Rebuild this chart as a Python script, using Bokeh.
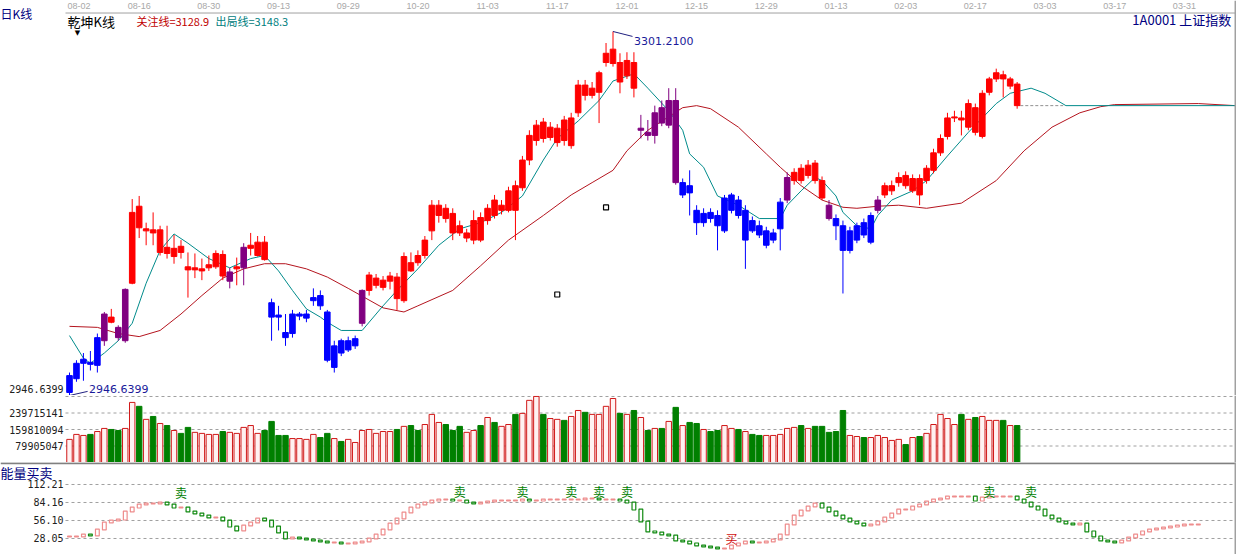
from bokeh.plotting import figure
from bokeh.layouts import column
from bokeh.models import Range1d, Span
from bokeh.embed import file_html
from bokeh.resources import INLINE
from bokeh.core.properties import value

# ---------------- data ----------------
tick_idx = [0, 10, 20, 30, 40, 50, 60, 70, 80, 90, 100, 110, 120, 130, 140, 150, 160]
tick_labels = ["08-02", "08-16", "08-30", "09-13", "09-29", "10-20", "11-03", "11-17", "12-01",
               "12-15", "12-29", "01-13", "02-03", "02-17", "03-03", "03-17", "03-31"]

opens = [2949.6, 2963, 2978, 2979, 2976, 3000, 3023, 3013, 3000, 3056,
         3131, 3107, 3108, 3086, 3091, 3082, 3092, 3072, 3069, 3068,
         3071, 3072, 3084, 3058, 3070, 3071, 3090, 3083, 3096, 3037,
         3025, 3008, 3007, 3024, 3022, 3039, 3044, 3028, 2974, 3000,
         2991, 2995, 3017, 3049, 3054, 3052, 3058, 3062, 3039, 3076,
         3083, 3083, 3107, 3122, 3129, 3124, 3112, 3100, 3098, 3120,
         3117, 3137, 3127, 3127, 3151, 3149, 3176, 3195, 3213, 3198,
         3193, 3215, 3190, 3222, 3249, 3239, 3242, 3271, 3270, 3271,
         3258, 3271, 3205, 3203, 3200, 3227, 3210, 3234, 3142, 3151,
         3127, 3115, 3125, 3122, 3107, 3127, 3137, 3098, 3117, 3112,
         3093, 3098, 3109, 3137, 3156, 3168, 3161, 3173, 3156, 3132,
         3119, 3112, 3088, 3098, 3115, 3096, 3127, 3142, 3146, 3154,
         3161, 3146, 3158, 3156, 3166, 3183, 3199, 3217, 3217, 3208,
         3227, 3199, 3242, 3255, 3259, 3248, 3250]
closes = [2966, 2978, 2982, 2977, 3003, 3026, 3018, 3003, 3050, 3125,
          3110, 3109, 3105, 3108, 3085, 3090, 3086, 3069, 3071, 3070,
          3074, 3085, 3063, 3067, 3072, 3091, 3093, 3096, 3079, 3023,
          3023, 3003, 3026, 3026, 3026, 3042, 3034, 2981, 2995, 2988,
          3000, 3002, 3049, 3064, 3061, 3059, 3063, 3041, 3082, 3068,
          3076, 3098, 3132, 3132, 3119, 3105, 3105, 3105, 3117, 3098,
          3129, 3122, 3132, 3146, 3127, 3176, 3200, 3210, 3197, 3208,
          3207, 3195, 3217, 3249, 3239, 3246, 3261, 3280, 3284, 3252,
          3273, 3246, 3207, 3200, 3222, 3212, 3234, 3154, 3154, 3144,
          3115, 3124, 3119, 3112, 3139, 3142, 3122, 3127, 3107, 3103,
          3107, 3105, 3135, 3159, 3164, 3156, 3171, 3156, 3139, 3119,
          3112, 3088, 3107, 3112, 3103, 3122, 3137, 3151, 3151, 3159,
          3151, 3158, 3142, 3168, 3183, 3197, 3217, 3218, 3215, 3231,
          3203, 3241, 3255, 3261, 3255, 3255, 3229]
highs = [2969, 2981, 2988, 2990, 3007, 3028, 3031, 3015, 3051, 3138,
         3141, 3115, 3125, 3112, 3112, 3103, 3098, 3086, 3085, 3080,
         3083, 3088, 3088, 3071, 3081, 3095, 3105, 3102, 3102, 3041,
         3034, 3026, 3030, 3028, 3030, 3051, 3049, 3030, 3000, 3002,
         3004, 3005, 3050, 3067, 3065, 3063, 3067, 3066, 3086, 3086,
         3088, 3102, 3137, 3137, 3133, 3129, 3117, 3109, 3127, 3125,
         3133, 3142, 3137, 3150, 3156, 3180, 3205, 3215, 3217, 3213,
         3211, 3219, 3222, 3254, 3254, 3252, 3263, 3290, 3301.21, 3280,
         3281, 3281, 3220, 3215, 3229, 3234, 3246, 3246, 3158, 3166,
         3132, 3129, 3129, 3127, 3142, 3144, 3141, 3132, 3121, 3117,
         3111, 3109, 3139, 3164, 3168, 3172, 3176, 3176, 3160, 3137,
         3123, 3117, 3111, 3115, 3119, 3125, 3141, 3154, 3156, 3164,
         3165, 3162, 3162, 3171, 3187, 3201, 3222, 3224, 3224, 3235,
         3231, 3244, 3257, 3265, 3263, 3257, 3252]
lows = [2946.64, 2960, 2961, 2971, 2969, 2995, 3017, 3000, 2998, 3055,
        3100, 3093, 3093, 3083, 3080, 3075, 3080, 3042, 3061, 3059,
        3068, 3070, 3059, 3051, 3054, 3054, 3083, 3082, 3078, 3000,
        3010, 2995, 3003, 3020, 3018, 3034, 3030, 2979, 2969, 2985,
        2989, 2992, 3014, 3044, 3051, 3049, 3050, 3030, 3037, 3067,
        3073, 3080, 3098, 3115, 3115, 3098, 3102, 3096, 3094, 3096,
        3113, 3119, 3123, 3125, 3098, 3146, 3171, 3190, 3193, 3195,
        3189, 3190, 3187, 3218, 3234, 3236, 3212, 3267, 3267, 3241,
        3255, 3237, 3197, 3195, 3192, 3209, 3207, 3152, 3139, 3122,
        3103, 3111, 3115, 3088, 3105, 3124, 3119, 3070, 3105, 3100,
        3090, 3095, 3088, 3134, 3152, 3153, 3158, 3153, 3137, 3117,
        3098, 3046, 3085, 3095, 3100, 3094, 3124, 3139, 3142, 3150,
        3148, 3144, 3132, 3153, 3163, 3180, 3196, 3213, 3200, 3205,
        3200, 3197, 3239, 3252, 3237, 3245, 3226]
# trend colour of each candle: r = red, b = blue, p = purple
regime = ("bbbbbprppr" "rrrrrrrrrr" "rrrprprrrb" "bbbbbbbbbb" "bbprrrrrrr"
          "rrrrrrrrrr" "rrrrrrrrrr" "rrrrrrrrrr" "rrppppppbb" "bbbbbbbbbb"
          "bbbprrrrrp" "bbbbbbprrr" "rrrrrrrrrr" "rrrrrrr")
# volume in millions of shares
volume_m = [112, 136, 131, 136, 150, 165, 160, 155, 165, 291,
            272, 209, 223, 189, 179, 155, 141, 170, 146, 141,
            136, 136, 150, 146, 141, 170, 179, 141, 155, 199,
            131, 131, 116, 116, 112, 136, 121, 141, 116, 102,
            112, 97, 155, 160, 141, 150, 150, 160, 175, 179,
            155, 184, 233, 194, 184, 155, 175, 146, 155, 179,
            218, 194, 175, 184, 233, 238, 301, 320, 233, 213,
            209, 204, 223, 252, 243, 233, 233, 272, 310, 238,
            233, 252, 218, 155, 165, 165, 199, 267, 179, 194,
            189, 160, 150, 155, 179, 165, 160, 150, 136, 131,
            131, 131, 136, 165, 170, 179, 165, 175, 175, 146,
            150, 252, 131, 126, 121, 121, 131, 121, 107, 112,
            87, 121, 126, 141, 184, 233, 213, 184, 233, 209,
            218, 223, 204, 204, 204, 179, 179]
vol_ticks = [79905047, 159810094, 239715141]
vol_grid = [79905047, 159810094, 239715141, 319620188]

# 出局线 (teal) and 关注线 (dark red), read at bar positions
teal_idx = [0, 2, 3, 5, 7, 9, 11, 13, 15, 17, 20, 23, 26, 28, 30, 32, 34, 36, 37, 39,
            42, 45, 47, 50, 53, 56, 59, 62, 65, 68, 70, 73, 76, 78, 81, 83, 86, 88, 89, 91,
            93, 96, 99, 102, 103, 105, 107, 108, 110, 111, 113, 115, 116, 118, 121, 123, 126, 129, 133, 135,
            138, 140, 143, 167.3]
teal_val = [3005, 2983, 2978, 2988, 3000, 3017, 3056, 3088, 3104, 3095, 3080, 3071, 3080, 3083, 3068, 3049, 3031, 3023, 3018, 3010,
            3010, 3034, 3049, 3070, 3093, 3109, 3115, 3125, 3141, 3176, 3197, 3214, 3234, 3253, 3260, 3246, 3224, 3205, 3182, 3169,
            3141, 3132, 3119, 3119, 3132, 3146, 3159, 3156, 3141, 3125, 3112, 3109, 3122, 3137, 3146, 3156, 3180, 3203, 3231, 3241,
            3246, 3241, 3229, 3229]
red_idx = [0, 4, 7, 10, 13, 16, 19, 22, 25, 28, 31, 34, 37, 40, 45, 48, 50, 55, 59, 63,
           68, 72, 75, 78, 80, 83, 88, 90, 92, 96, 100, 102, 105, 108, 111, 113, 116, 119, 123, 128,
           133, 137, 141, 145, 148, 150, 162, 167.3]
red_val = [3014, 3013, 3007, 3004, 3010, 3026, 3044, 3061, 3070, 3075, 3075, 3070, 3062, 3051, 3032, 3028, 3034, 3049, 3073, 3098,
           3122, 3142, 3154, 3166, 3185, 3205, 3227, 3229, 3226, 3208, 3182, 3169, 3151, 3137, 3130, 3129, 3131, 3132, 3129, 3134,
           3156, 3185, 3208, 3222, 3228, 3230, 3231, 3229]
ext_end_idx = 142.6          # end of the dashed last-close extension
mark_idx = [70, 77]          # two small hollow squares on the price panel
mark_val = [3045, 3129.8]
price_high, price_low = 3301.21, 2946.64
high_text, low_text = "3301.2100", "2946.6399"

# 能量买卖 indicator
ind_val = [31.2, 31.2, 34.3, 32.7, 42.1, 53.0, 56.1, 57.6, 70.1, 76.3,
           81.0, 82.6, 82.6, 84.1, 81.0, 76.3, 76.3, 70.1, 67.0, 63.9,
           60.8, 60.8, 56.1, 46.7, 40.5, 48.3, 53.0, 59.2, 56.1, 46.7,
           37.4, 28.0, 29.6, 28.0, 26.5, 24.9, 23.4, 21.8, 21.8, 20.3,
           20.3, 21.8, 23.4, 28.0, 34.3, 42.1, 51.4, 59.2, 68.6, 76.3,
           81.0, 84.1, 87.2, 88.8, 88.8, 87.2, 87.2, 84.1, 82.6, 84.1,
           85.7, 87.2, 87.2, 87.2, 87.2, 88.8, 87.2, 87.2, 88.8, 88.8,
           88.8, 88.8, 88.8, 88.8, 90.4, 90.4, 88.8, 88.8, 88.8, 87.2,
           84.1, 73.2, 54.5, 39.0, 37.4, 34.3, 32.7, 24.9, 23.4, 20.3,
           17.1, 15.6, 14.0, 12.5, 12.5, 17.1, 20.3, 23.4, 21.8, 21.8,
           23.4, 26.5, 34.3, 49.9, 63.9, 71.7, 77.9, 82.6, 76.3, 70.1,
           63.9, 59.2, 54.5, 51.4, 48.3, 49.9, 54.5, 60.8, 67.0, 73.2,
           73.2, 77.9, 81.0, 85.7, 88.8, 90.4, 93.5, 93.5, 93.5, 93.5,
           87.2, 91.9, 93.5, 93.5, 93.5, 93.5, 88.8, 84.1, 77.9, 73.2,
           63.9, 59.2, 54.5, 51.4, 49.9, 51.4, 39.0, 31.2, 24.9, 23.4,
           21.8, 24.9, 29.6, 34.3, 39.0, 42.1, 43.6, 45.2, 46.7, 48.3,
           49.9, 49.9, 49.9]
ind_ticks = [28.05, 56.10, 84.16, 112.21]
ind_tick_labels = ["28.05", "56.10", "84.16", "112.21"]
sig_idx = [16, 56, 65, 72, 76, 80, 132, 138, 95]
sig_val = [100, 102, 102, 102, 102, 102, 102, 102, 28]
sig_text = ["卖", "卖", "卖", "卖", "卖", "卖", "卖", "卖", "买"]

# ---------------- layout / styling ----------------
W = 1236
CJK = "Noto Sans CJK SC"
MONO = "DejaVu Sans Mono"
RED, BLUE, PURPLE = "#ff0000", "#0000ff", "#800080"
TEAL, DRED = "#008b8b", "#b4141e"
GREY = "#a0a0a0"
NAVY = "#000080"
cmap = {"r": RED, "b": BLUE, "p": PURPLE}

x_full, x_hi = -9.902, 167.48        # whole canvas width in bar units
x_lo = -0.574                        # left edge of the plotting area
border_x = 167.34                    # grey right-hand border
lab_x = -0.86                        # right edge of the left-hand labels
xr = Range1d(x_full, x_hi)

# vertical placement (price units) of the header texts of the price panel
y_top, date_y, topline_y, head_y, lowlab_y = 3331.4, 3325.6, 3319.2, 3311.0, 2952.5


def fig(height, yr):
    p = figure(width=W, height=height, x_range=xr, y_range=yr, output_backend="svg",
               toolbar_location=None, min_border_left=0, min_border_right=0,
               min_border_top=0, min_border_bottom=0)
    p.outline_line_color = None
    p.background_fill_color = "white"
    p.border_fill_color = "white"
    p.axis.visible = False
    p.grid.visible = False
    p.add_layout(Span(location=border_x, dimension="height", line_color=GREY, line_width=2))
    return p


def left_labels(p, ys, labels):
    p.text(x=[lab_x] * len(ys), y=ys, text=labels, text_color="#202020",
           text_font=value(MONO), text_font_size="10px", text_align="right",
           text_baseline="middle")


def dashed_grid(p, ys):
    p.segment(x0=[x_lo] * len(ys), y0=ys, x1=[border_x] * len(ys), y1=ys,
              line_color=GREY, line_dash="3 3", line_width=1)


# ---------- price panel ----------
n = len(opens)
idx = list(range(n))
cols = [cmap[c] for c in regime]
p1 = fig(395, Range1d(price_low, y_top))

# date scale along the top
p1.segment(x0=[x_lo], y0=[topline_y], x1=[border_x], y1=[topline_y], line_color=GREY, line_width=1)
p1.text(x=[x_lo + 0.3], y=[date_y], text=tick_labels[:1], text_color="#a8a8a8",
        text_font=value("Liberation Sans"), text_font_size="9px",
        text_align="left", text_baseline="middle")
p1.text(x=tick_idx[1:], y=[date_y] * (len(tick_idx) - 1), text=tick_labels[1:], text_color="#a8a8a8",
        text_font=value("Liberation Sans"), text_font_size="9px",
        text_align="center", text_baseline="middle")

p1.line(red_idx, red_val, line_color=DRED, line_width=1)
p1.line(teal_idx, teal_val, line_color=TEAL, line_width=1)
p1.segment(x0=[idx[-1] + 0.45], y0=[closes[-1]], x1=[ext_end_idx], y1=[closes[-1]],
           line_color="#909090", line_dash="3 2", line_width=1)
p1.segment(x0=idx, y0=highs, x1=idx, y1=lows, line_color=cols, line_width=1)
p1.vbar(x=idx, width=0.8, top=[max(o, c) for o, c in zip(opens, closes)],
        bottom=[min(o, c) for o, c in zip(opens, closes)],
        fill_color=cols, line_color=cols, line_width=1)
p1.scatter(mark_idx, mark_val, marker="square", size=5, fill_color=None,
           line_color="black", line_width=1.2)

hi_i = highs.index(price_high)
lo_i = lows.index(price_low)
p1.line([hi_i, hi_i + 2.8], [price_high, price_high - 4.8], line_color="#202080", line_width=1)
p1.text(x=[hi_i + 3.0], y=[price_high - 9.5], text=[high_text], text_color="#1a1a9a",
        text_font=value("DejaVu Sans"), text_font_size="11px",
        text_align="left", text_baseline="middle")
p1.line([lo_i, lo_i + 2.6], [price_low, price_low + 4.0], line_color="#202080", line_width=1)
p1.text(x=[lo_i + 2.8], y=[lowlab_y], text=[low_text], text_color="#1a1a9a",
        text_font=value("DejaVu Sans"), text_font_size="11px",
        text_align="left", text_baseline="middle")
left_labels(p1, [lowlab_y], [low_text])

# header texts
p1.text(x=[x_full], y=[topline_y], text=["日K线"], text_color=NAVY, text_font=value(CJK),
        text_font_size="12px", text_align="left", text_baseline="middle")
p1.text(x=[x_lo + 0.3], y=[head_y], text=["乾坤K线"], text_color="black", text_font=value(CJK),
        text_font_size="13px", text_align="left", text_baseline="middle")
p1.text(x=[1.15], y=[head_y - 11.5], text=["▼"], text_color="black", text_font=value("DejaVu Sans"),
        text_font_size="7px", text_align="center", text_baseline="middle")
p1.text(x=[9.6], y=[head_y], text=["关注线=3128.9"], text_color="#c00000", text_font=value(CJK),
        text_font_size="11px", text_align="left", text_baseline="middle")
p1.text(x=[20.95], y=[head_y], text=["出局线=3148.3"], text_color="#008080", text_font=value(CJK),
        text_font_size="11px", text_align="left", text_baseline="middle")
p1.text(x=[border_x - 0.2], y=[head_y + 1.5], text=["1A0001  上证指数"], text_color=NAVY,
        text_font=value(CJK), text_font_size="13px", text_align="right", text_baseline="middle")

# ---------- volume panel ----------
vol = [v * 1e6 for v in volume_m]
p2 = fig(67, Range1d(0, 324.5e6))
dashed_grid(p2, vol_grid)
left_labels(p2, vol_ticks, [str(t) for t in vol_ticks])
up = [c >= o for o, c in zip(opens, closes)]
ui = [i for i in idx if up[i]]
di = [i for i in idx if not up[i]]
p2.vbar(x=ui, top=[vol[i] for i in ui], bottom=0, width=0.78,
        fill_color="#fff2f2", line_color="#d01818", line_width=1)
p2.vbar(x=di, top=[vol[i] for i in di], bottom=0, width=0.78,
        fill_color="#008000", line_color="#008000", line_width=1)

# ---------- indicator panel ----------
ind_top = 146.5
p3 = fig(92, Range1d(3.1, ind_top))
p3.segment(x0=[x_full], y0=[ind_top - 1.0], x1=[x_hi], y1=[ind_top - 1.0],
           line_color="#808080", line_width=2)
dashed_grid(p3, ind_ticks)
left_labels(p3, ind_ticks, ind_tick_labels)
p3.text(x=[x_full], y=[130.9], text=["能量买卖"], text_color=NAVY, text_font=value(CJK),
        text_font_size="13px", text_align="left", text_baseline="middle")
m = len(ind_val)
prev = [ind_val[0]] + ind_val[:-1]
iidx = list(range(m))
tops = [max(a, b) + 0.7 for a, b in zip(prev, ind_val)]
bots = [min(a, b) - 0.7 for a, b in zip(prev, ind_val)]
icol = ["#ee8c8c" if b >= a else "#118a11" for a, b in zip(prev, ind_val)]
p3.quad(left=[i - 0.27 for i in iidx], right=[i + 0.27 for i in iidx], top=tops, bottom=bots,
        fill_color="white", fill_alpha=0.0, line_color=icol, line_width=1.2)
sig_col = ["#008000" if t == "卖" else "#d01010" for t in sig_text]
p3.text(x=sig_idx, y=sig_val, text=sig_text, text_color=sig_col,
        text_font=value(CJK), text_font_size="12px", text_align="center", text_baseline="middle")

layout = column(p1, p2, p3)
open("out.html", "w").write(file_html(layout, INLINE))
